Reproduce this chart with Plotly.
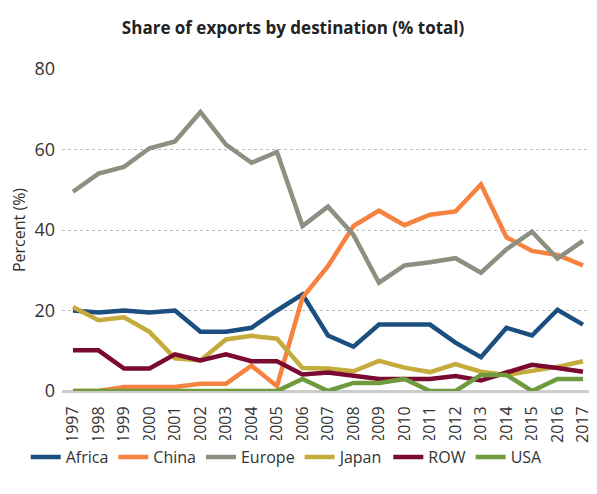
import plotly.graph_objects as go

years = list(range(1997, 2018))
year_labels = [str(y) for y in years]

africa = [20, 19.5, 20, 19.5, 20, 14.7, 14.7, 15.7, 20, 24, 13.8, 11, 16.5, 16.5, 16.5, 12, 8.4, 15.7, 13.8, 20.2, 16.5]
china = [0, 0, 1, 1, 1, 1.8, 1.8, 6.3, 1.2, 23.2, 31, 41, 44.8, 41.2, 43.8, 44.6, 51.3, 38.2, 34.8, 33.8, 31.2]
europe = [49.5, 54, 55.7, 60.3, 62, 69.3, 61.2, 56.7, 59.4, 41, 45.8, 38.8, 26.9, 31.2, 32, 33, 29.4, 35.2, 39.6, 32.9, 37.3]
japan = [20.9, 17.6, 18.3, 14.7, 8.1, 7.6, 12.8, 13.7, 13, 5.7, 5.6, 4.9, 7.5, 5.8, 4.7, 6.7, 4.8, 4, 5, 6, 7.4]
row = [10.1, 10.1, 5.6, 5.6, 9.1, 7.6, 9.1, 7.4, 7.4, 4.1, 4.6, 3.8, 3, 3, 3, 3.7, 2.6, 4.6, 6.5, 5.7, 4.8]
usa = [0, 0, 0, 0, 0, 0, 0, 0, 0, 3, 0, 2, 2, 3, 0, 0, 4, 4, 0, 3, 3]

series_names = ["Africa", "China", "Europe", "Japan", "ROW", "USA"]
series_values = [africa, china, europe, japan, row, usa]
colors = ["#1b4f80", "#f5823f", "#8a9181", "#c5ab3c", "#7a0a2f", "#6f9a3d"]

y_ticks = [0, 20, 40, 60, 80]

FONT = "Open Sans"

fig = go.Figure()
for name, vals, col in zip(series_names, series_values, colors):
    fig.add_trace(go.Scatter(
        x=years, y=vals, mode="lines", name=name,
        line=dict(color=col, width=4.5),
        showlegend=True,
    ))

fig.update_layout(
    width=589, height=486,
    margin=dict(l=54, r=0, t=61, b=103),
    paper_bgcolor="white", plot_bgcolor="white",
    font=dict(family=FONT, color="#333333"),
    title=dict(
        text="<b>Share of exports by destination (% total)</b>",
        x=0.484, xref="container", xanchor="center",
        y=0.958, yref="container", yanchor="middle",
        font=dict(family=FONT, size=17, color="#222222"),
    ),
    legend=dict(
        orientation="h", x=0.42, xanchor="center",
        y=0.076, yref="container", yanchor="middle",
        font=dict(family=FONT, size=16, color="#333333"),
        itemwidth=30, traceorder="normal",
    ),
    showlegend=True,
)

fig.update_xaxes(
    range=[1996.57, 2017.55],
    tickmode="array", tickvals=years, ticktext=year_labels,
    tickangle=-90, tickfont=dict(family=FONT, size=16, color="#333333"),
    showgrid=False, zeroline=False, showline=False,
    ticks="outside", ticklen=8, tickcolor="rgba(0,0,0,0)",
    automargin=False,
)
fig.update_yaxes(
    range=[0, 80],
    tickmode="array", tickvals=y_ticks,
    tickfont=dict(family=FONT, size=18, color="#333333"),
    showgrid=True, gridcolor="#bdbdbd", griddash="dot", gridwidth=1,
    zeroline=True, zerolinecolor="#cccccc", zerolinewidth=2.5,
    showline=False, ticks="", ticklabelstandoff=6, automargin=False,
    title=dict(text="Percent (%)", font=dict(family=FONT, size=16, color="#333333"), standoff=7),
)

fig.write_html("out.html")
